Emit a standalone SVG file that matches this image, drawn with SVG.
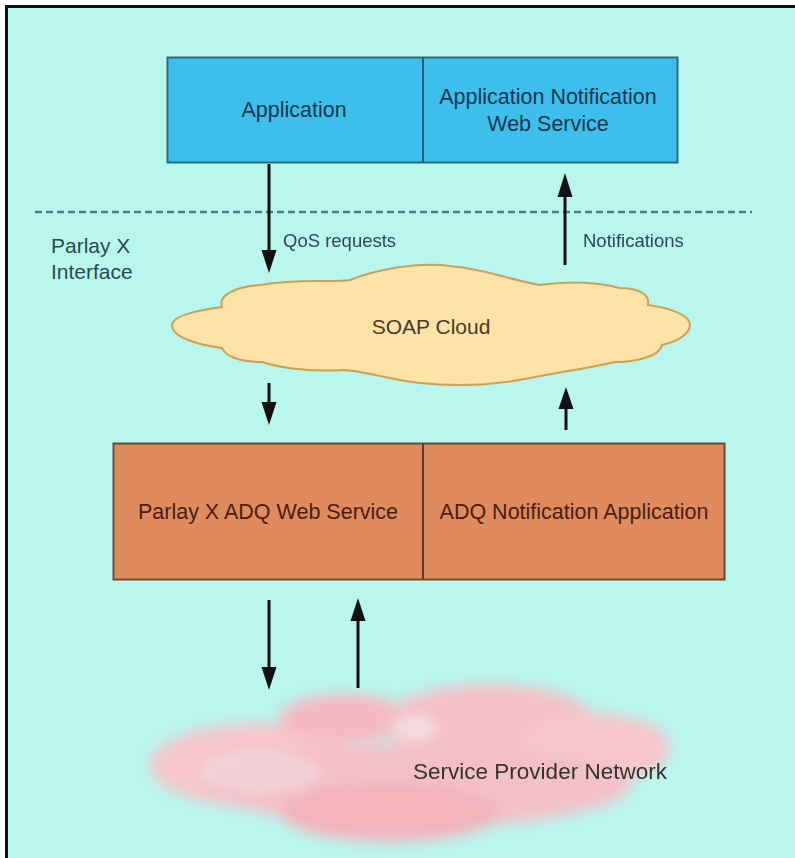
<svg xmlns="http://www.w3.org/2000/svg" width="795" height="858" viewBox="0 0 795 858">
<defs>
<style>
.t{font-family:"Liberation Sans",Arial,sans-serif;text-anchor:middle}
.l{font-family:"Liberation Sans",Arial,sans-serif}
.ar{stroke:#111;stroke-width:3;fill:none}
.hd{fill:#111}
</style>
<filter id="blur" x="-20%" y="-30%" width="140%" height="160%"><feGaussianBlur stdDeviation="7"/></filter>
<filter id="blur2" x="-20%" y="-30%" width="140%" height="160%"><feGaussianBlur stdDeviation="5"/></filter>
</defs>
<rect width="795" height="858" fill="#ffffff"/>
<rect x="6" y="6" width="789" height="852" fill="#b9f6ee"/>
<path d="M6.5,858 V6.5 H795" fill="none" stroke="#111" stroke-width="3"/>

<g id="dashed-boundary">
<line x1="35" y1="212" x2="752" y2="212" stroke="#4d7f84" stroke-width="2.5" stroke-dasharray="7,4"/>
</g>

<g id="top-box">
<rect x="167.5" y="57.5" width="510" height="105" fill="#3cbfea" stroke="#2b6a7e" stroke-width="2"/>
<line x1="423" y1="57.5" x2="423" y2="162.5" stroke="#2b5a6e" stroke-width="2"/>
</g>
<g id="application">
<text class="t" x="294" y="117" font-size="21.5" fill="#1b3550">Application</text>
</g>
<g id="app-notification-ws">
<text class="t" x="548" y="104" font-size="21.5" fill="#1b3550">Application Notification</text>
<text class="t" x="548" y="131" font-size="21.5" fill="#1b3550">Web Service</text>
</g>

<g id="parlay-interface-label">
<text class="l" x="51" y="253" font-size="21" fill="#2a4a52">Parlay X</text>
<text class="l" x="51" y="279" font-size="21" fill="#2a4a52">Interface</text>
</g>

<g id="soap-cloud">
<path d="M172,325 C172,315 200,310 222,307 C218,295 235,287 260,285 C300,278 330,283 350,280 C380,268 420,262 450,266 C490,270 510,280 540,285 C570,280 600,283 620,288 C640,288 650,295 648,305 C670,308 690,315 690,325 C690,335 675,342 662,345 C660,355 640,362 615,362 C580,370 560,372 530,378 C490,386 450,386 420,383 C390,380 370,372 345,370 C310,372 280,368 262,362 C240,362 225,356 222,348 C200,345 172,338 172,325 Z" fill="#fde3a8" stroke="#c9a257" stroke-width="2"/>
<text class="t" x="431" y="334" font-size="21" fill="#4a3a2a">SOAP Cloud</text>
</g>

<g id="bottom-box">
<rect x="113.5" y="443.5" width="611" height="136" fill="#e08a60" stroke="#6e4a34" stroke-width="2"/>
<line x1="423" y1="443.5" x2="423" y2="579.5" stroke="#5a3a28" stroke-width="2"/>
</g>
<g id="parlay-adq-ws">
<text class="t" x="268" y="519" font-size="21.5" fill="#4a1e10">Parlay X ADQ Web Service</text>
</g>
<g id="adq-notification-app">
<text class="t" x="574" y="519" font-size="21.5" fill="#4a1e10">ADQ Notification Application</text>
</g>

<g id="service-provider-network">
<g filter="url(#blur)">
<ellipse cx="255" cy="765" rx="105" ry="42" fill="#f5c6cc"/>
<ellipse cx="345" cy="718" rx="65" ry="24" fill="#f6b8c0"/>
<ellipse cx="490" cy="722" rx="105" ry="38" fill="#f5c0c8"/>
<ellipse cx="595" cy="748" rx="75" ry="35" fill="#f6c6cc"/>
<ellipse cx="420" cy="785" rx="210" ry="42" fill="#f4c0c8"/>
<ellipse cx="390" cy="812" rx="110" ry="30" fill="#f3b4bc"/>
</g>
<g filter="url(#blur2)">
<ellipse cx="260" cy="772" rx="60" ry="22" fill="#f0dadd" opacity="0.6"/>
<ellipse cx="415" cy="728" rx="22" ry="14" fill="#f2e2e5" opacity="0.7"/>
</g>
<text class="t" x="540" y="779" font-size="22.5" fill="#333">Service Provider Network</text>
</g>

<g id="connectors">
<line class="ar" x1="269" y1="164" x2="269" y2="255"/>
<polygon class="hd" points="261.5,250 276.5,250 269,273"/>
<text class="l" x="283" y="247" font-size="18.5" fill="#2a4a52">QoS requests</text>

<line class="ar" x1="565" y1="265" x2="565" y2="190"/>
<polygon class="hd" points="557.5,197 572.5,197 565,173"/>
<text class="l" x="583" y="247" font-size="18.5" fill="#2a4a52">Notifications</text>

<line class="ar" x1="269" y1="383" x2="269" y2="407"/>
<polygon class="hd" points="261.5,402 276.5,402 269,425"/>

<line class="ar" x1="566" y1="430" x2="566" y2="404"/>
<polygon class="hd" points="558.5,409 573.5,409 566,387"/>

<line class="ar" x1="269" y1="600" x2="269" y2="672"/>
<polygon class="hd" points="261.5,667 276.5,667 269,690"/>

<line class="ar" x1="358" y1="688" x2="358" y2="616"/>
<polygon class="hd" points="350.5,621 365.5,621 358,598"/>
</g>
</svg>
